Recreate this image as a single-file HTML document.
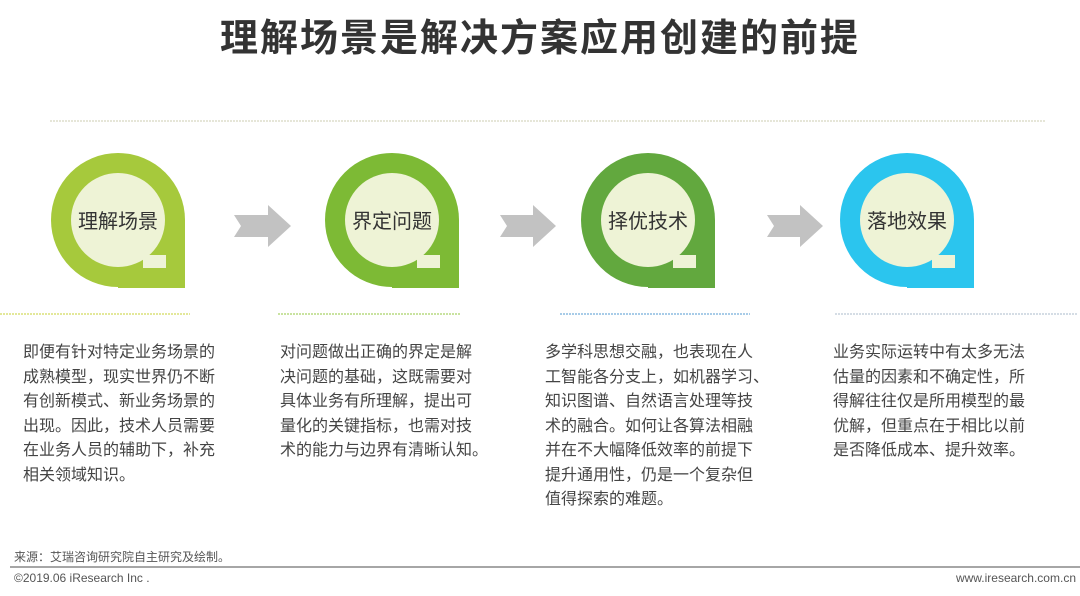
<!DOCTYPE html>
<html><head><meta charset="utf-8"><style>
body{margin:0;width:1080px;height:596px;background:#fff;position:relative;overflow:hidden;font-family:"Liberation Sans","Noto Sans CJK SC",sans-serif;}
.t{position:absolute;top:7px;left:0;width:1080px;text-align:center;font-size:38px;font-weight:bold;color:#333;letter-spacing:2px;}
.p{position:absolute;top:341px;font-size:16px;line-height:24.5px;color:#444;white-space:nowrap;}
.lbl{font-family:"Liberation Sans","Noto Sans CJK SC",sans-serif;font-size:20px;fill:#333;text-anchor:middle;}
.src{position:absolute;left:14px;top:548px;font-size:12px;color:#555;}
.ft{position:absolute;top:571px;font-size:12px;color:#555;}
</style></head><body>
<div class="t">理解场景是解决方案应用创建的前提</div>
<svg width="1080" height="596" style="position:absolute;left:0;top:0">
<line x1="50" y1="121" x2="1045" y2="121" stroke="#e6e6d8" stroke-width="2" stroke-dasharray="2 1"/>
<g stroke-width="2" stroke-dasharray="2 1">
<line x1="0" y1="314" x2="190" y2="314" stroke="#e3e89a"/>
<line x1="278" y1="314" x2="460" y2="314" stroke="#c9e3a0"/>
<line x1="560" y1="314" x2="750" y2="314" stroke="#a8cce8"/>
<line x1="835" y1="314" x2="1078" y2="314" stroke="#d5dde5"/>
</g>
<g>
<circle cx="118" cy="220" r="67" fill="#a6c93c"/><rect x="118" y="220" width="67" height="68" fill="#a6c93c"/>
<circle cx="118" cy="220" r="47" fill="#eef3d6"/><polygon points="143,255 166,255 166,268 143,268 143,255" fill="#eef3d6"/>
<text class="lbl" x="118" y="228">理解场景</text>
</g>
<g>
<circle cx="392" cy="220" r="67" fill="#7dba35"/><rect x="392" y="220" width="67" height="68" fill="#7dba35"/>
<circle cx="392" cy="220" r="47" fill="#eef3d6"/><polygon points="417,255 440,255 440,268 417,268" fill="#eef3d6"/>
<text class="lbl" x="392" y="228">界定问题</text>
</g>
<g>
<circle cx="648" cy="220" r="67" fill="#62a83e"/><rect x="648" y="220" width="67" height="68" fill="#62a83e"/>
<circle cx="648" cy="220" r="47" fill="#eef3d6"/><polygon points="673,255 696,255 696,268 673,268" fill="#eef3d6"/>
<text class="lbl" x="648" y="228">择优技术</text>
</g>
<g>
<circle cx="907" cy="220" r="67" fill="#2bc5ee"/><rect x="907" y="220" width="67" height="68" fill="#2bc5ee"/>
<circle cx="907" cy="220" r="47" fill="#eef3d6"/><polygon points="932,255 955,255 955,268 932,268" fill="#eef3d6"/>
<text class="lbl" x="907" y="228">落地效果</text>
</g>
<g fill="#c2c2c2">
<polygon points="234,215 268,215 268,205 291,226 268,247 268,237 234,237 241,226"/>
<polygon points="500,215 533,215 533,205 556,226 533,247 533,237 500,237 507,226"/>
<polygon points="767,215 800,215 800,205 823,226 800,247 800,237 767,237 774,226"/>
</g>
<line x1="10" y1="567" x2="1080" y2="567" stroke="#888" stroke-width="1.5"/>
</svg>
<div class="p" style="left:23px">即便有针对特定业务场景的<br>成熟模型，现实世界仍不断<br>有创新模式、新业务场景的<br>出现。因此，技术人员需要<br>在业务人员的辅助下，补充<br>相关领域知识。</div>
<div class="p" style="left:280px">对问题做出正确的界定是解<br>决问题的基础，这既需要对<br>具体业务有所理解，提出可<br>量化的关键指标，也需对技<br>术的能力与边界有清晰认知。</div>
<div class="p" style="left:545px">多学科思想交融，也表现在人<br>工智能各分支上，如机器学习、<br>知识图谱、自然语言处理等技<br>术的融合。如何让各算法相融<br>并在不大幅降低效率的前提下<br>提升通用性，仍是一个复杂但<br>值得探索的难题。</div>
<div class="p" style="left:833px">业务实际运转中有太多无法<br>估量的因素和不确定性，所<br>得解往往仅是所用模型的最<br>优解，但重点在于相比以前<br>是否降低成本、提升效率。</div>
<div class="src">来源：艾瑞咨询研究院自主研究及绘制。</div>
<div class="ft" style="left:14px">©2019.06 iResearch Inc .</div>
<div class="ft" style="right:4px">www.iresearch.com.cn</div>
</body></html>
